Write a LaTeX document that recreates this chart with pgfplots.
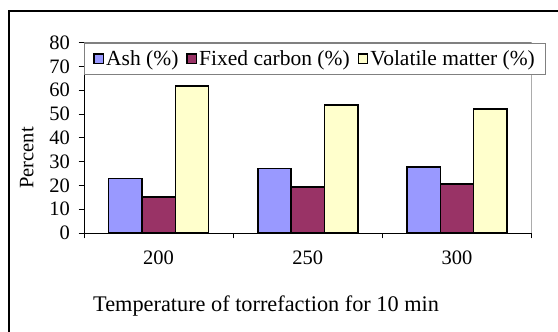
\documentclass[border=0pt]{standalone}
\usepackage{fontspec}
\setmainfont{Liberation Serif}
\usepackage{pgfplots}
\pgfplotsset{compat=1.18}
\definecolor{ashc}{HTML}{9999FF}
\definecolor{fixc}{HTML}{993366}
\definecolor{volc}{HTML}{FFFFCC}
\begin{document}
\begin{tikzpicture}[font=\fontsize{20.5bp}{24bp}\selectfont]
\path[use as bounding box] (0,0) rectangle (558bp,332bp);
\draw[line width=2.3bp] (8.7bp,-3bp) -- (8.7bp,320.8bp) -- (562bp,320.8bp);
\begin{axis}[
  at={(84bp,99bp)}, anchor=south west,
  scale only axis, width=447.7bp, height=190.3bp,
  ybar=0pt, bar width=33.3bp,
  xmin=-0.5, xmax=2.5, ymin=0, ymax=80,
  xtick={-0.5,0.5,1.5,2.5}, xticklabels={200,250,300}, x tick label as interval,
  ytick={0,10,...,80},
  axis x line*=bottom, axis y line*=left,
  axis line style={line width=0.8bp, black},
  tick align=outside, major tick length=5.5bp, tick style={black, line width=0.8bp},
  /pgf/number format/assume math mode=true,
  ticklabel style={font=\fontsize{20.5bp}{24bp}\selectfont},
  xticklabel style={yshift=-9bp},
  yticklabel style={xshift=-5bp},
  legend columns=3,
  legend style={at={(0,1)}, anchor=north west, draw=gray, line width=0.8bp,
    inner xsep=9bp, inner ysep=5.5bp, nodes={inner sep=2bp},
    font=\fontsize{21.5bp}{24bp}\selectfont,
    /tikz/every even column/.append style={column sep=6bp}},
  legend image code/.code={\draw[#1,/tikz/.cd,line width=1.5bp,draw=black] (0bp,-4.7bp) rectangle (9.3bp,4.7bp);},
  every axis plot/.append style={draw=black, line width=1.5bp},
]
\draw[gray, line width=1.6bp] (rel axis cs:0,1) -- (rel axis cs:1,1) -- (rel axis cs:1,0);
\addplot[fill=ashc] coordinates {(0,22.9) (1,27.1) (2,27.8)};
\addplot[fill=fixc] coordinates {(0,15.2) (1,19.4) (2,20.6)};
\addplot[fill=volc] coordinates {(0,61.7) (1,53.8) (2,52.2)};
\legend{Ash (\%), Fixed carbon (\%), Volatile matter (\%)}
\end{axis}
\node[rotate=90, anchor=base] at (33.3bp,174bp) {Percent};
\node[anchor=base west, inner sep=0pt, font=\fontsize{22.3bp}{26bp}\selectfont] at (93bp,20.3bp) {Temperature of torrefaction for 10 min};
\end{tikzpicture}
\end{document}
